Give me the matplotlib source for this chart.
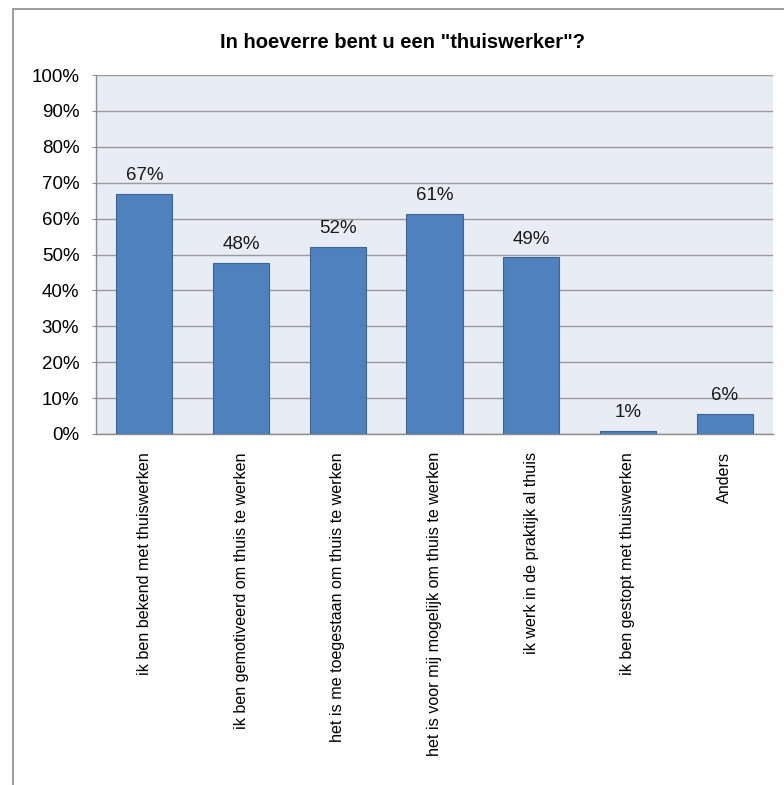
import matplotlib
matplotlib.use("Agg")
import matplotlib.pyplot as plt
from matplotlib import font_manager
from matplotlib.patches import Rectangle

categories = [
    "ik ben bekend met thuiswerken",
    "ik ben gemotiveerd om thuis te werken",
    "het is me toegestaan om thuis te werken",
    "het is voor mij mogelijk om thuis te werken",
    "ik werk in de praktijk al thuis",
    "ik ben gestopt met thuiswerken",
    "Anders",
]
values = [66.9, 47.7, 52.1, 61.3, 49.2, 0.8, 5.6]
value_labels = ["67%", "48%", "52%", "61%", "49%", "1%", "6%"]
yticks = [0, 10, 20, 30, 40, 50, 60, 70, 80, 90, 100]
ytick_labels = [f"{t}%" for t in yticks]
title = 'In hoeverre bent u een "thuiswerker"?'

names = {f.name for f in font_manager.fontManager.ttflist}
fam = "Liberation Sans Narrow" if "Liberation Sans Narrow" in names else "Liberation Sans"
plt.rcParams["font.family"] = [fam, "DejaVu Sans"]

W, H = 784, 785
fig = plt.figure(figsize=(W / 100, H / 100), dpi=100)
fig.patch.set_facecolor("white")

# chart border
fig.patches.append(Rectangle((13 / W, -0.05), 1.2, 1 - 9 / H + 0.05, transform=fig.transFigure,
                             fill=False, edgecolor="#8c8c8c", linewidth=1.2))

left, right, top, bottom = 96, 773, 75, 434
ax = fig.add_axes([left / W, 1 - bottom / H, (right - left) / W, (bottom - top) / H])
ax.set_facecolor("#E8ECF4")

x = list(range(len(categories)))
ax.bar(x, values, width=0.58, color="#4F81BD", edgecolor="#3A6494", linewidth=0.8, zorder=3)
for xi, v, lab in zip(x, values, value_labels):
    ax.annotate(lab, (xi, v), xytext=(0, 7), textcoords="offset points",
                ha="center", va="bottom", fontsize=13.5, color="#1a1a1a")

ax.set_xlim(-0.5, len(categories) - 0.5)
ax.set_ylim(0, 100)
ax.set_yticks(yticks)
ax.set_yticklabels(ytick_labels, fontsize=13.5)
ax.yaxis.grid(True, color="#9a9a9a", linewidth=1.0, zorder=0)
ax.set_axisbelow(True)
ax.set_xticks(x)
ax.set_xticklabels(categories, rotation=90, fontsize=11.6, va="top", ha="center")
ax.tick_params(axis="x", length=0, pad=13)
ax.tick_params(axis="y", length=3, pad=9, color="#8c8c8c")
for s in ["top", "right"]:
    ax.spines[s].set_visible(False)
for s in ["left", "bottom"]:
    ax.spines[s].set_color("#8c8c8c")
    ax.spines[s].set_linewidth(1.0)

fig.text(403 / W, 1 - 42 / H, title, ha="center", va="center",
         fontsize=14.5, fontweight="bold", color="#000000")

fig.savefig("out.png", dpi=100)
